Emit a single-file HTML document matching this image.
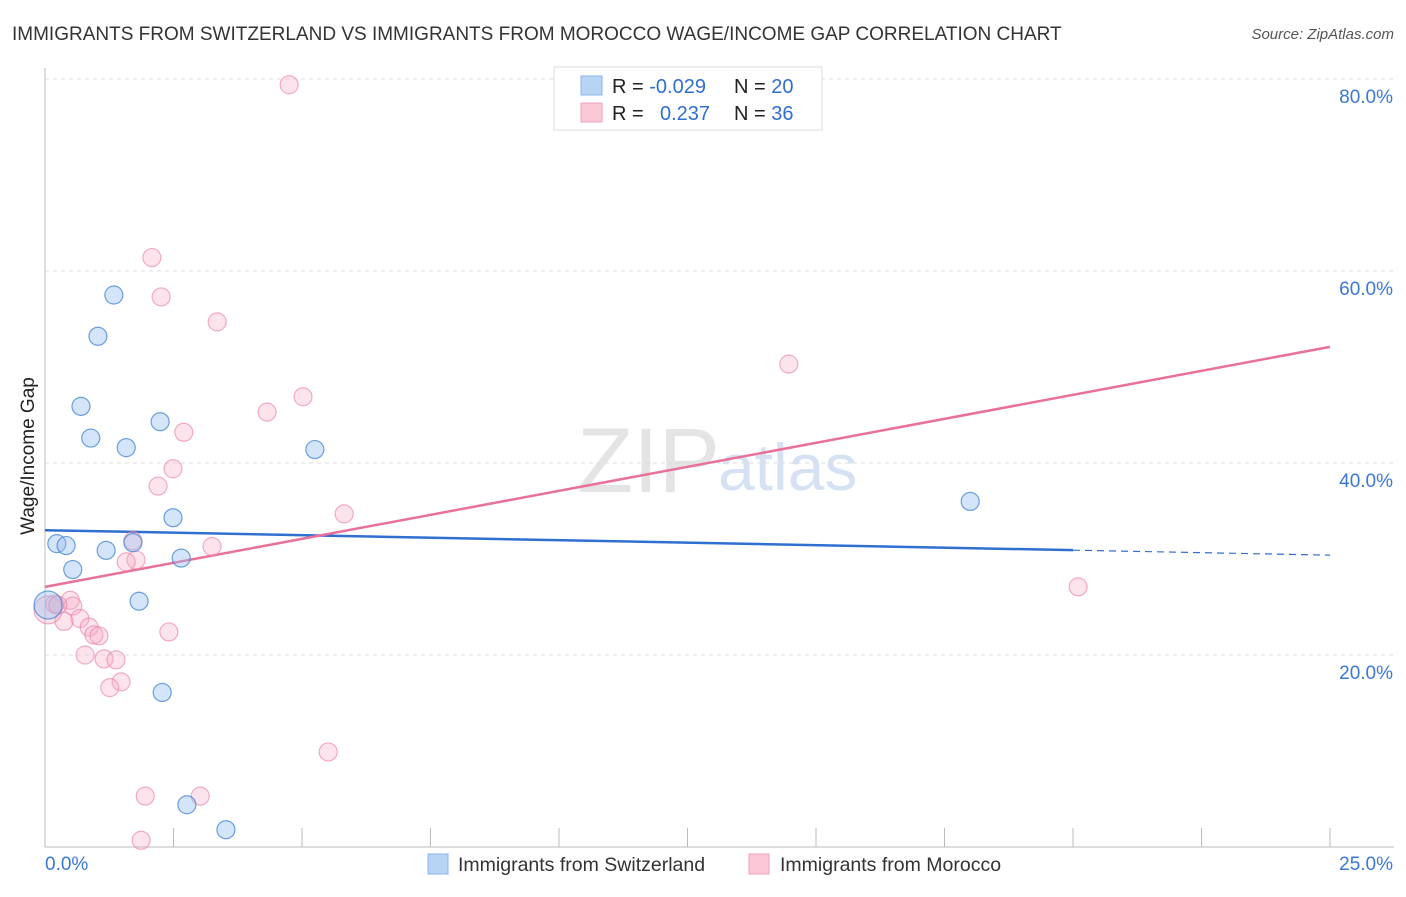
<!DOCTYPE html>
<html><head><meta charset="utf-8"><style>
body{margin:0;background:#fff;font-family:"Liberation Sans",sans-serif;}
svg text{font-family:"Liberation Sans",sans-serif;}
</style></head><body>
<svg id="c" width="1406" height="892">
<text x="12" y="40" font-size="19" fill="#333">IMMIGRANTS FROM SWITZERLAND VS IMMIGRANTS FROM MOROCCO WAGE/INCOME GAP CORRELATION CHART</text>
<text x="1394" y="39" font-size="15" fill="#555" font-style="italic" text-anchor="end">Source: ZipAtlas.com</text>
<text x="720" y="492" font-size="92" fill="#e4e4e4" text-anchor="end" font-family="Liberation Serif">ZIP</text>
<text x="718" y="490" font-size="66" fill="#d6e2f3">atlas</text>
<text transform="translate(34,456) rotate(-90)" font-size="19" fill="#222" text-anchor="middle">Wage/Income Gap</text>
<g id="axes"></g><g id="lines"></g><g id="pts"></g>
<g>
<rect x="554" y="67" width="268" height="63" fill="#fff" stroke="#ddd"/>
<rect x="581" y="76" width="21" height="19" fill="#b8d4f5" stroke="#8ab4ea"/>
<rect x="581" y="103" width="21" height="19" fill="#fcc8d8" stroke="#f0a0ba"/>
<text x="612" y="93" font-size="20" fill="#222">R = <tspan fill="#2f6fd0">-0.029</tspan><tspan x="734">N = </tspan><tspan fill="#2f6fd0">20</tspan></text>
<text x="612" y="120" font-size="20" fill="#222">R = <tspan x="660" fill="#2f6fd0">0.237</tspan><tspan x="734">N = </tspan><tspan fill="#2f6fd0">36</tspan></text>
</g>
<g>
<rect x="428" y="854" width="20" height="20" fill="#b8d4f5" stroke="#8ab4ea"/>
<text x="458" y="871" font-size="19.5" fill="#333">Immigrants from Switzerland</text>
<rect x="749" y="854" width="20" height="20" fill="#fcc8d8" stroke="#f0a0ba"/>
<text x="780" y="871" font-size="19.5" fill="#333">Immigrants from Morocco</text>
</g>
</svg>
<script>
const blueX=[1.34,1.03,0.70,0.89,1.58,2.24,2.49,0.23,0.41,1.19,2.65,0.54,1.83,2.28,2.76,3.52,5.25,18.0,0.06,1.71];
const blueY=[57.5,53.2,45.9,42.6,41.6,44.3,34.3,31.6,31.4,30.9,30.1,28.9,25.6,16.1,4.4,1.8,41.4,36.0,25.2,31.7];
const pinkX=[4.75,2.08,2.26,3.35,14.47,4.32,5.02,2.70,2.49,2.20,5.82,3.25,1.71,1.77,1.58,20.10,0.49,0.54,0.19,0.68,0.37,0.86,0.95,1.05,2.41,0.78,1.15,1.38,1.48,1.26,5.51,1.95,3.02,1.87,0.06,0.25];
const pinkY=[79.4,61.4,57.3,54.7,50.3,45.3,46.9,43.2,39.4,37.6,34.7,31.3,31.9,29.9,29.7,27.1,25.7,25.1,25.3,23.8,23.5,22.9,22.1,22.0,22.4,20.0,19.6,19.5,17.2,16.6,9.9,5.3,5.3,0.7,24.7,25.2];
const blueTrend=[33.0,30.4];
const pinkTrend=[27.1,52.1];
const yTicks=[20,40,60,80];
const yTickLabels=["20.0%","40.0%","60.0%","80.0%"];
const xs=v=>45+v/25*1285, ys=v=>847-v*9.6;
const NS="http://www.w3.org/2000/svg";
function mk(p,t,a){const e=document.createElementNS(NS,t);for(const k in a)e.setAttribute(k,a[k]);p.appendChild(e);return e;}
const ax=document.getElementById('axes');
yTicks.forEach((t,i)=>{
 const g=mk(ax,'line',{x1:45,x2:1394,y1:ys(t),y2:ys(t),stroke:'#ddd','stroke-dasharray':'4,4'});
 
 
 const l=mk(ax,'text',{x:1393,y:ys(t)+24,'font-size':19,fill:'#3a78d4','text-anchor':'end'});
 l.textContent=yTickLabels[i];
 
 
});
mk(ax,'line',{x1:45,x2:45,y1:68,y2:847,stroke:'#bbb'});
mk(ax,'line',{x1:45,x2:1394,y1:847,y2:847,stroke:'#bbb'});
for(let i=1;i<=10;i++){const t=mk(ax,'line',{x1:xs(i*2.5),x2:xs(i*2.5),y1:828,y2:847,stroke:'#bbb'});
 
 }
const x0=mk(ax,'text',{x:45,y:870,'font-size':19,fill:'#3a78d4'});x0.textContent='0.0%';


const x1=mk(ax,'text',{x:1393,y:870,'font-size':19,fill:'#3a78d4','text-anchor':'end'});x1.textContent='25.0%';


const ln=document.getElementById('lines');
const bAt=v=>blueTrend[0]+(blueTrend[1]-blueTrend[0])*v/25;
const b1=mk(ln,'line',{x1:xs(0),y1:ys(bAt(0)),x2:xs(20),y2:ys(bAt(20)),stroke:'#2f6fd0','stroke-width':2.5});


const b2=mk(ln,'line',{x1:xs(20),y1:ys(bAt(20)),x2:xs(25),y2:ys(bAt(25)),stroke:'#2f6fd0','stroke-width':1.2,'stroke-dasharray':'7,5'});


const p1=mk(ln,'line',{x1:xs(0),y1:ys(pinkTrend[0]),x2:xs(25),y2:ys(pinkTrend[1]),stroke:'#e8709a','stroke-width':2.5});


const pg=document.getElementById('pts');
function dots(X,Y,fill,stroke,name){X.forEach((x,i)=>{
 const big=(x<0.1);
 const c=mk(pg,'circle',{cx:xs(x),cy:ys(Y[i]),r:big?14:9,fill:fill,stroke:stroke,'stroke-width':1.2});
 
 
});}
dots(pinkX,pinkY,'rgba(248,170,195,0.32)','rgba(235,130,165,0.65)','morocco-point');
dots(blueX,blueY,'rgba(150,190,240,0.4)','rgba(60,130,215,0.75)','switzerland-point');
</script>
</body></html>
